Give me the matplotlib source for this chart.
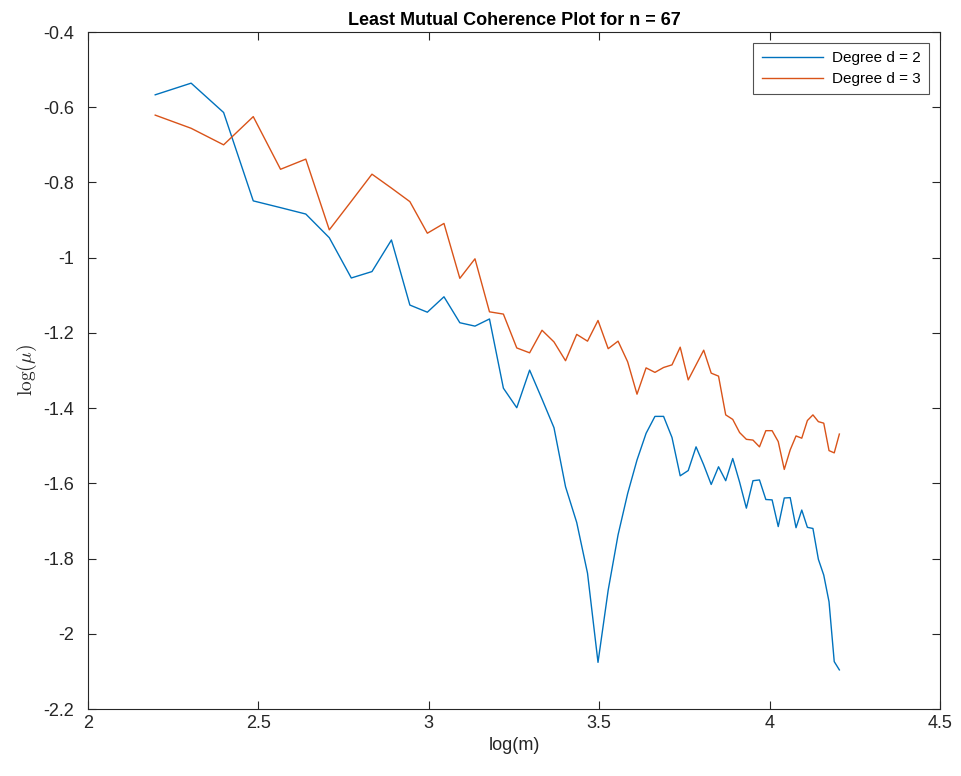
import numpy as np
import matplotlib
matplotlib.use('Agg')
import matplotlib.pyplot as plt
from matplotlib.ticker import FuncFormatter

###############################################################################
# Data
###############################################################################
m = list(range(9, 68))

mu_d2 = [-0.567, -0.536, -0.614, -0.849, -0.867, -0.884, -0.947, -1.054, -1.037, -0.953,
         -1.126, -1.145, -1.104, -1.173, -1.182, -1.163, -1.347, -1.399, -1.299, -1.376,
         -1.452, -1.609, -1.704, -1.839, -2.076, -1.884, -1.737, -1.627, -1.538, -1.467,
         -1.422, -1.422, -1.478, -1.580, -1.566, -1.503, -1.551, -1.603, -1.556, -1.593,
         -1.534, -1.597, -1.666, -1.593, -1.591, -1.643, -1.644, -1.715, -1.639, -1.638,
         -1.718, -1.671, -1.717, -1.720, -1.802, -1.844, -1.915, -2.074, -2.096]

mu_d3 = [-0.621, -0.656, -0.700, -0.625, -0.765, -0.738, -0.926, -0.850, -0.778, -0.815,
         -0.851, -0.935, -0.909, -1.055, -1.003, -1.144, -1.150, -1.240, -1.253, -1.193,
         -1.224, -1.274, -1.204, -1.222, -1.167, -1.242, -1.222, -1.277, -1.363, -1.293,
         -1.305, -1.292, -1.285, -1.238, -1.325, -1.285, -1.246, -1.307, -1.315, -1.418,
         -1.430, -1.465, -1.483, -1.485, -1.503, -1.460, -1.460, -1.489, -1.563, -1.511,
         -1.474, -1.480, -1.433, -1.418, -1.436, -1.440, -1.513, -1.519, -1.469]

labels = ['Degree d = 2', 'Degree d = 3']
x_ticks = [2, 2.5, 3, 3.5, 4, 4.5]
y_ticks = [-2.2, -2, -1.8, -1.6, -1.4, -1.2, -1, -0.8, -0.6, -0.4]

###############################################################################
# Plot
###############################################################################
plt.rcParams['font.family'] = ['Liberation Sans', 'DejaVu Sans']
plt.rcParams['mathtext.fontset'] = 'cm'
plt.rcParams['axes.unicode_minus'] = False

fig = plt.figure(figsize=(9.62, 7.76), dpi=100)
ax = fig.add_axes([88/962, 1 - 709/776, (940-88)/962, (709-32)/776])

x = np.log(m)
ax.plot(x, mu_d2, color='#0072BD', lw=1.0, label=labels[0])
ax.plot(x, mu_d3, color='#D95319', lw=1.0, label=labels[1])

ax.set_xlim(2, 4.5)
ax.set_ylim(-2.2, -0.4)
ax.set_xticks(x_ticks)
ax.set_yticks(y_ticks)
fmt = FuncFormatter(lambda v, p: '%g' % v)
ax.xaxis.set_major_formatter(fmt)
ax.yaxis.set_major_formatter(fmt)

axis_col = '#262626'
for s in ax.spines.values():
    s.set_color(axis_col)
    s.set_linewidth(0.8)
ax.tick_params(direction='in', top=True, right=True, length=6, width=0.8,
               color=axis_col, labelcolor=axis_col, labelsize=13)
ax.tick_params(axis='y', pad=10)
ax.tick_params(axis='x', pad=4)

ax.set_title('Least Mutual Coherence Plot for n = 67', fontsize=13, fontweight='bold',
             color='black', pad=5)
ax.set_xlabel('log(m)', fontsize=13, color=axis_col, labelpad=4)
ax.set_ylabel(r'$\log(\mu)$', fontsize=14, color=axis_col, labelpad=3)

leg = ax.legend(loc='upper right', fontsize=11, frameon=True, fancybox=False,
                edgecolor=axis_col, borderaxespad=0.7, handlelength=4.0,
                labelspacing=0.45, borderpad=0.55, handletextpad=0.6)
leg.get_frame().set_linewidth(0.8)

plt.savefig('out.png', dpi=100)
